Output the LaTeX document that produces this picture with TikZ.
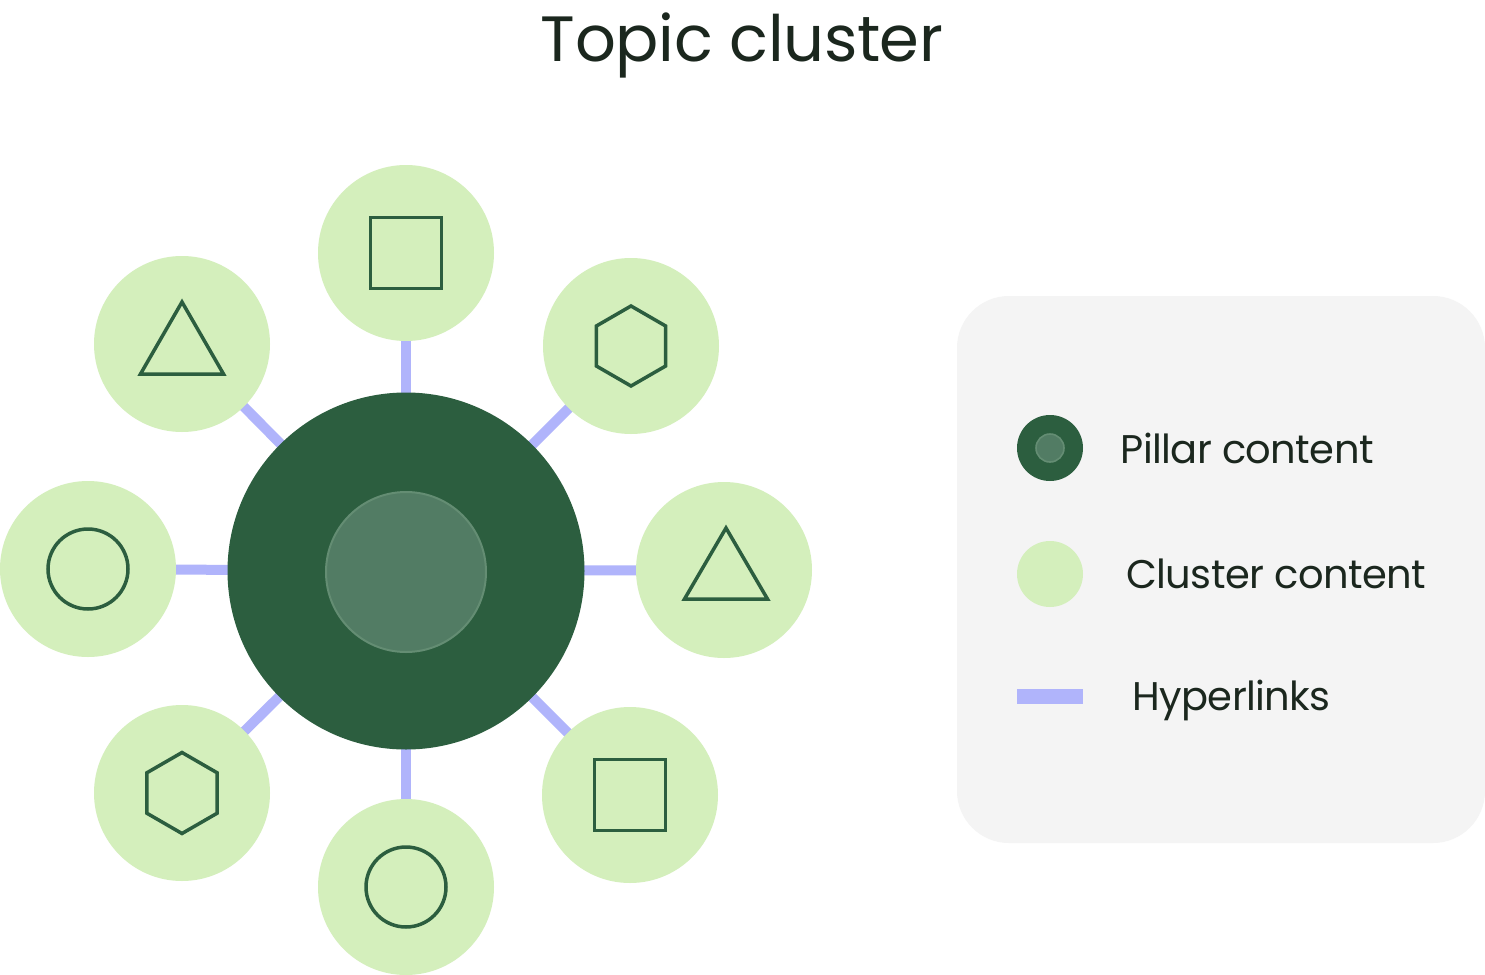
\documentclass[tikz,border=0pt]{standalone}
\usepackage{fontspec}
\setmainfont{Poppins}
\newfontfamily\lgfont[LetterSpace=-1.5]{Poppins}
\newfontfamily\ttlfont[LetterSpace=-0.6]{Poppins}
\usetikzlibrary{backgrounds}
\definecolor{pillar}{HTML}{2C5E3F}
\definecolor{pillarin}{HTML}{527C64}
\definecolor{pillarrim}{HTML}{648D73}
\definecolor{cluster}{HTML}{D4EFBC}
\definecolor{link}{HTML}{B0B4FB}
\definecolor{legendbg}{HTML}{F4F4F4}
\definecolor{ink}{HTML}{1B271E}
\tikzset{
  sat/.style={circle, fill=cluster, minimum size=88pt, inner sep=0pt, outer sep=0pt},
  hub/.style={circle, fill=pillar, minimum size=178.5pt, inner sep=0pt, outer sep=0pt},
  hubin/.style={circle, fill=pillarin, draw=pillarrim, line width=1pt, minimum size=80pt, inner sep=0pt},
  glyph/.style={draw=pillar, line width=1.75pt, line join=miter},
  hlink/.style={draw=link, line width=5pt},
  lbl/.style={anchor=base west, inner sep=0pt, text=ink, font=\lgfont\fontsize{20}{24}\selectfont},
}
\begin{document}
\begin{tikzpicture}[x=0.5pt,y=-0.5pt]
\useasboundingbox (0,0) rectangle (1485,975);
\begin{pgfonlayer}{background}
  \fill[white] (0,0) rectangle (1485,975);
\end{pgfonlayer}

% title
\node[anchor=base, inner sep=0pt, text=ink, font=\ttlfont\fontsize{32}{38}\selectfont] (title) at (742,61) {Topic cluster};

% hub
\node[hub] (hub) at (406,571) {};
\node[hubin] (hubin) at (406,572) {};

% satellites
\node[sat] (sN)  at (406,253) {};
\node[sat] (sNW) at (182,344) {};
\node[sat] (sNE) at (631,346) {};
\node[sat] (sW)  at (88,569) {};
\node[sat] (sE)  at (724,570) {};
\node[sat] (sSW) at (182,793) {};
\node[sat] (sS)  at (406,887) {};
\node[sat] (sSE) at (630,795) {};

% hyperlinks
\begin{pgfonlayer}{background}
  \foreach \s in {sN,sNW,sNE,sW,sE,sSW,sS,sSE}
    \draw[hlink] (hub.center) -- (\s.center);
\end{pgfonlayer}

% glyphs
\draw[glyph, shift={(sN.center)}] (-35.5,-35.5) rectangle (35.5,35.5);
\draw[glyph, shift={(sSE.center)}] (-35.5,-35.5) rectangle (35.5,35.5);
\draw[glyph, shift={(sNW.center)}] (0,-42) -- (41.5,30) -- (-41.5,30) -- cycle;
\draw[glyph, shift={(sE.center)}] (2,-42) -- (43.5,29) -- (-39.5,29) -- cycle;
\draw[glyph, shift={(sNE.center)}] (30:40) -- (90:40) -- (150:40) -- (210:40) -- (270:40) -- (330:40) -- cycle;
\draw[glyph, shift={(sSW.center)}] (30:40.5) -- (90:40.5) -- (150:40.5) -- (210:40.5) -- (270:40.5) -- (330:40.5) -- cycle;
\draw[glyph, shift={(sW.center)}] (0,0) circle (40);
\draw[glyph, shift={(sS.center)}] (0,0) circle (40);

% legend
\fill[legendbg, rounded corners=26pt] (957,296) rectangle (1485,843);
\node[circle, fill=pillar, minimum size=33pt, inner sep=0pt] (lp) at (1050,448) {};
\node[circle, fill=pillarin, draw=pillarrim, line width=0.8pt, minimum size=14pt, inner sep=0pt] (lpin) at (1050,448) {};
\node[lbl] (tp) at (1120,463) {Pillar content};
\node[circle, fill=cluster, minimum size=33pt, inner sep=0pt] (lc) at (1050,574) {};
\node[lbl] (tc) at (1126,588) {Cluster content};
\coordinate (la) at (1017,696);
\coordinate (lb) at (1083,696);
\draw[draw=link, line width=7.5pt] (la) -- (lb);
\node[lbl] (th) at (1132,710) {Hyperlinks};
\end{tikzpicture}
\end{document}
